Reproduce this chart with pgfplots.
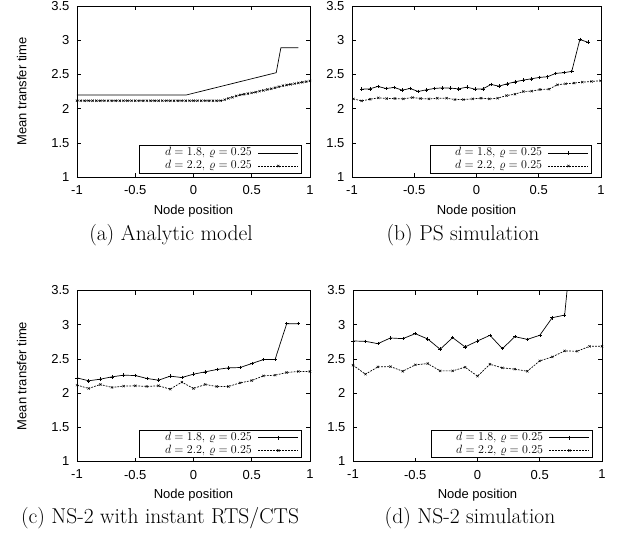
\documentclass[border=0pt]{standalone}
\usepackage{fontspec}
\setsansfont{Liberation Sans}
\usepackage{pgfplots}
\pgfplotsset{compat=1.18}

\newcommand{\lblfont}{\sffamily\fontsize{13}{15}\selectfont}
\newcommand{\capfont}{\fontsize{21.5}{24}\selectfont}
\newcommand{\entry}[1]{\makebox[113pt][r]{#1\hspace*{5pt}}}

\pgfplotsset{
  panel/.style={
    scale only axis,
    width=233pt, height=171pt,
    xmin=-1, xmax=1, ymin=1, ymax=3.5,
    xtick={-1,-0.5,0,0.5,1},
    xticklabels={-1,-0.5,0,0.5,1},
    ytick={1,1.5,2,2.5,3,3.5},
    yticklabels={1,1.5,2,2.5,3,3.5},
    tick align=inside, tick pos=both,
    major tick length=4pt,
    axis line style={line width=0.8pt},
    every tick/.style={black, line width=0.6pt},
    ticklabel style={font=\lblfont},
    xticklabel style={yshift=-5pt},
    yticklabel style={xshift=-4pt},
    xlabel={Node position},
    xlabel style={font=\lblfont, at={(axis description cs:0.5,-0.197)}, anchor=center},
    ylabel style={font=\lblfont, at={(axis description cs:-0.237,0.5)}, anchor=center},
    legend cell align=right,
    legend plot pos=right,
    legend style={font=\fontsize{12}{13}\selectfont, draw=black, line width=1pt,
      anchor=south east, at={(0.966,0.018)},
      inner xsep=3pt, inner ysep=1pt,
      nodes={inner sep=1pt, text height=8pt, text depth=2.8pt}},
    legend image code/.code={%
      \draw[mark repeat=2,mark phase=2,#1]
        plot coordinates {(0pt,0pt) (20pt,0pt) (40pt,0pt)};},
  },
  sone/.style={black, line width=0.7pt, mark=+, mark size=1.8pt,
    mark options={solid, line width=0.5pt}},
  stwo/.style={black, line width=0.7pt, dash pattern=on 1.8pt off 1.2pt,
    mark=x, mark size=1.6pt, mark options={solid, line width=0.5pt}},
}

\begin{document}
\begin{tikzpicture}
\useasboundingbox (0,0) rectangle (618pt,-535pt);

% (a) analytic model
\begin{axis}[panel, at={(77pt,-177pt)}, anchor=south west,
  ylabel={Mean transfer time}]
\addplot[black, line width=0.7pt] coordinates {
  (-1,2.20) (-0.06,2.20) (0.71,2.525) (0.75,2.89) (0.9,2.89)};
\addlegendentry{\entry{$d=1.8$, $\varrho=0.25$}}
\addplot[stwo] coordinates {
  (-1.000,2.115) (-0.967,2.115) (-0.933,2.115) (-0.900,2.115) (-0.867,2.115)
  (-0.833,2.115) (-0.800,2.115) (-0.767,2.115) (-0.733,2.115) (-0.700,2.115)
  (-0.667,2.115) (-0.633,2.115) (-0.600,2.115) (-0.567,2.115) (-0.533,2.115)
  (-0.500,2.115) (-0.467,2.115) (-0.433,2.115) (-0.400,2.115) (-0.367,2.115)
  (-0.333,2.115) (-0.300,2.115) (-0.267,2.115) (-0.233,2.115) (-0.200,2.115)
  (-0.167,2.115) (-0.133,2.115) (-0.100,2.115) (-0.067,2.115) (-0.033,2.115)
  (0.000,2.115) (0.033,2.115) (0.067,2.115) (0.100,2.115) (0.133,2.115)
  (0.167,2.115) (0.200,2.115) (0.233,2.115) (0.267,2.130) (0.300,2.150)
  (0.333,2.165) (0.367,2.185) (0.400,2.200) (0.433,2.210) (0.467,2.220)
  (0.500,2.230) (0.533,2.240) (0.567,2.255) (0.600,2.265) (0.633,2.280)
  (0.667,2.290) (0.700,2.305) (0.733,2.320) (0.767,2.335) (0.800,2.345)
  (0.833,2.355) (0.867,2.365) (0.900,2.375) (0.933,2.385) (0.967,2.395)
  (1.000,2.405)};
\addlegendentry{\entry{$d=2.2$, $\varrho=0.25$}}
\end{axis}

% (b) PS simulation
\begin{axis}[panel, width=249pt, at={(352pt,-177pt)}, anchor=south west,
  legend style={at={(0.965,0.018)}}]
\addplot[sone] coordinates {
  (-0.922,2.284) (-0.857,2.289) (-0.792,2.324) (-0.727,2.294) (-0.662,2.309)
  (-0.598,2.270) (-0.533,2.294) (-0.468,2.250) (-0.403,2.275) (-0.338,2.294)
  (-0.273,2.304) (-0.208,2.299) (-0.143,2.289) (-0.078,2.314) (-0.013,2.284)
  (0.052,2.289) (0.116,2.353) (0.181,2.328) (0.246,2.363) (0.311,2.392)
  (0.376,2.417) (0.441,2.436) (0.506,2.456) (0.571,2.466) (0.636,2.515)
  (0.701,2.525) (0.765,2.544) (0.830,3.010) (0.895,2.970)};
\addlegendentry{\entry{$d=1.8$, $\varrho=0.25$}}
\addplot[stwo] coordinates {
  (-0.989,2.142) (-0.922,2.113) (-0.855,2.137) (-0.788,2.157) (-0.722,2.147)
  (-0.655,2.147) (-0.588,2.142) (-0.515,2.162) (-0.448,2.147) (-0.382,2.142)
  (-0.315,2.152) (-0.240,2.152) (-0.173,2.132) (-0.106,2.132) (-0.031,2.142)
  (0.036,2.152) (0.103,2.142) (0.170,2.152) (0.242,2.191) (0.309,2.211)
  (0.376,2.250) (0.443,2.255) (0.510,2.279) (0.582,2.284) (0.649,2.348)
  (0.716,2.363) (0.783,2.373) (0.850,2.387) (0.925,2.397) (0.997,2.407)};
\addlegendentry{\entry{$d=2.2$, $\varrho=0.25$}}
\end{axis}

% (c) NS-2 with instant RTS/CTS
\begin{axis}[panel, at={(77pt,-461.5pt)}, anchor=south west,
  ylabel={Mean transfer time}]
\addplot[sone] coordinates {
  (-1.0,2.223) (-0.9,2.180) (-0.8,2.204) (-0.7,2.238) (-0.6,2.262)
  (-0.5,2.257) (-0.4,2.214) (-0.3,2.189) (-0.2,2.248) (-0.1,2.228)
  (0.0,2.277) (0.1,2.311) (0.2,2.345) (0.3,2.369) (0.4,2.374)
  (0.5,2.432) (0.6,2.490) (0.7,2.490) (0.8,3.015) (0.9,3.015)};
\addlegendentry{\entry{$d=1.8$, $\varrho=0.25$}}
\addplot[stwo] coordinates {
  (-1.0,2.117) (-0.9,2.068) (-0.8,2.126) (-0.7,2.083) (-0.6,2.102)
  (-0.5,2.107) (-0.4,2.097) (-0.3,2.107) (-0.2,2.058) (-0.1,2.160)
  (0.0,2.068) (0.1,2.126) (0.2,2.097) (0.3,2.097) (0.4,2.150)
  (0.5,2.184) (0.6,2.252) (0.7,2.262) (0.8,2.301) (0.9,2.316) (1.0,2.316)};
\addlegendentry{\entry{$d=2.2$, $\varrho=0.25$}}
\end{axis}

% (d) NS-2 simulation
\begin{axis}[panel, width=249pt, at={(353pt,-461.5pt)}, anchor=south west,
  legend style={at={(0.965,0.018)}}]
\addplot[sone] coordinates {
  (-1.0,2.762) (-0.9,2.757) (-0.8,2.723) (-0.7,2.806) (-0.6,2.796)
  (-0.5,2.869) (-0.4,2.791) (-0.3,2.641) (-0.2,2.811) (-0.1,2.675)
  (0.0,2.762) (0.1,2.845) (0.2,2.650) (0.3,2.825) (0.4,2.786)
  (0.5,2.845) (0.6,3.102) (0.7,3.141) (0.8,5.000) (0.9,5.300)};
\addlegendentry{\entry{$d=1.8$, $\varrho=0.25$}}
\addplot[stwo] coordinates {
  (-1.0,2.408) (-0.9,2.277) (-0.8,2.383) (-0.7,2.388) (-0.6,2.320)
  (-0.5,2.413) (-0.4,2.432) (-0.3,2.325) (-0.2,2.325) (-0.1,2.379)
  (0.0,2.248) (0.1,2.422) (0.2,2.369) (0.3,2.350) (0.4,2.320)
  (0.5,2.471) (0.6,2.529) (0.7,2.617) (0.8,2.612) (0.9,2.684) (1.0,2.684)};
\addlegendentry{\entry{$d=2.2$, $\varrho=0.25$}}
\end{axis}

% sub-captions
\node[font=\capfont] at (171pt,-235pt) {(a) Analytic model};
\node[font=\capfont] at (463pt,-235pt) {(b) PS simulation};
\node[font=\capfont] at (160pt,-518pt) {(c) NS-2 with instant RTS/CTS};
\node[font=\capfont] at (470pt,-518pt) {(d) NS-2 simulation};
\end{tikzpicture}
\end{document}
